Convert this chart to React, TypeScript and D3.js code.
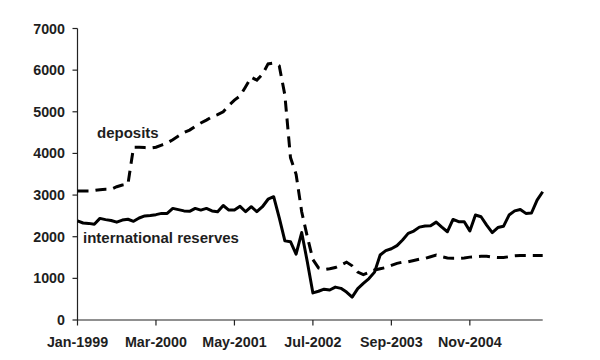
import React from "react";
import * as d3 from "d3";

const monthNames = ["Jan","Feb","Mar","Apr","May","Jun","Jul","Aug","Sep","Oct","Nov","Dec"];
const months: string[] = d3.range(84).map((i) => `${monthNames[i % 12]}-${1999 + Math.floor(i / 12)}`);

const reserves: number[] = [
  2380, 2330, 2320, 2300, 2440, 2410, 2390, 2350, 2400, 2420,
  2370, 2450, 2500, 2510, 2530, 2560, 2560, 2680, 2650, 2620,
  2610, 2680, 2640, 2680, 2620, 2600, 2750, 2640, 2640, 2730,
  2600, 2720, 2600, 2720, 2900, 2960, 2450, 1900, 1880, 1580,
  2100, 1400, 650, 690, 740, 720, 790, 760, 670, 550,
  755, 880, 995, 1150, 1560, 1665, 1710, 1785, 1920, 2080,
  2135, 2230, 2255, 2265, 2350, 2230, 2120, 2415, 2360, 2360,
  2140, 2520, 2480, 2280, 2100, 2220, 2250, 2520, 2620, 2655,
  2560, 2570, 2880, 3080,
];

const deposits: number[] = [
  3100, 3100, 3100, 3110, 3130, 3140, 3140, 3200, 3240, 3260,
  4150, 4150, 4140, 4130, 4150, 4200, 4250, 4330, 4420, 4500,
  4560, 4650, 4730, 4800, 4880, 4930, 5000, 5150, 5280, 5380,
  5600, 5830, 5760, 5900, 6150, 6170, 6100, 5400, 3900, 3500,
  2600, 2000, 1450, 1250, 1210, 1230, 1260, 1320, 1390, 1300,
  1150, 1090, 1140, 1200, 1230, 1260, 1310, 1360, 1390, 1400,
  1430, 1460, 1480, 1520, 1560, 1520, 1490, 1480, 1480, 1490,
  1510, 1520, 1530, 1530, 1510, 1500, 1500, 1520, 1540, 1550,
  1550, 1550, 1550, 1550,
];

const yTicks: number[] = [0, 1000, 2000, 3000, 4000, 5000, 6000, 7000];
const xTickIdx: number[] = [0, 14, 28, 42, 56, 70];

export default function App() {
  const W = 600, H = 360;
  const x = d3.scaleLinear().domain([0, months.length - 1]).range([77.5, 542.7]);
  const y = d3.scaleLinear().domain([0, 7000]).range([320, 28.5]);
  const line = d3.line<number>().x((_, i) => x(i)).y((d) => y(d));
  const font = "'Liberation Sans', Arial, sans-serif";
  const txt = "#1e1e1e";
  return (
    <svg width={W} height={H} style={{ position: "absolute", left: 0, top: 0, background: "#fff" }}>
      <rect width={W} height={H} fill="#fff" />
      <line x1={x(0)} x2={x(0)} y1={y(7000)} y2={y(0)} stroke="#222" strokeWidth={1.2} />
      <line x1={x(0)} x2={x(months.length - 1)} y1={y(0)} y2={y(0)} stroke="#222" strokeWidth={1.2} />
      {yTicks.map((t) => (
        <g key={t}>
          <line x1={x(0) - 5} x2={x(0)} y1={y(t)} y2={y(t)} stroke="#222" strokeWidth={1.2} />
          <text x={65} y={y(t)} dy="0.35em" textAnchor="end" fontFamily={font} fontWeight="bold" fontSize={14.3} fill={txt}>
            {t}
          </text>
        </g>
      ))}
      {xTickIdx.map((i) => (
        <g key={i}>
          <line x1={x(i)} x2={x(i)} y1={y(0)} y2={y(0) + 5.5} stroke="#222" strokeWidth={1.2} />
          <text x={x(i)} y={347} textAnchor="middle" fontFamily={font} fontWeight="bold" fontSize={14.3} fill={txt}>
            {months[i]}
          </text>
        </g>
      ))}
      <path d={line(deposits) || ""} fill="none" stroke="#000" strokeWidth={3} strokeDasharray="11,7" />
      <path d={line(reserves) || ""} fill="none" stroke="#000" strokeWidth={3} strokeLinejoin="round" />
      <text x={97} y={138} fontFamily={font} fontWeight="bold" fontSize={15} fill={txt}>deposits</text>
      <text x={83} y={243} fontFamily={font} fontWeight="bold" fontSize={15} fill={txt}>international reserves</text>
    </svg>
  );
}
